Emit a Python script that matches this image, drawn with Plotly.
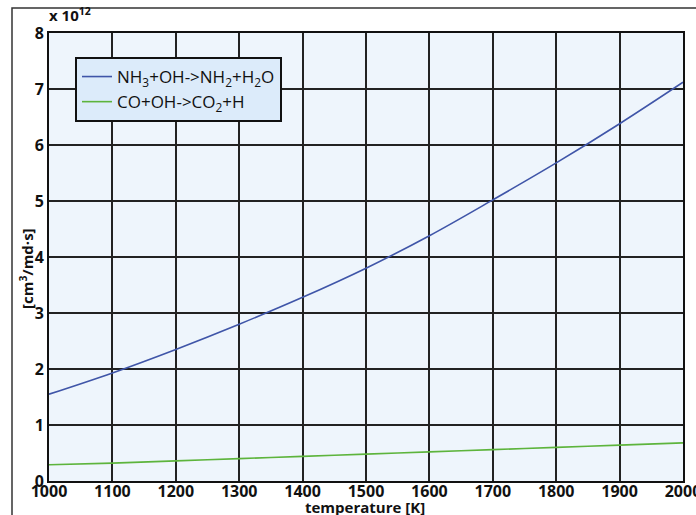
import plotly.graph_objects as go

temperature = [1000, 1100, 1200, 1300, 1400, 1500, 1600, 1700, 1800, 1900, 2000]
nh3_oh = [1.55, 1.93, 2.35, 2.80, 3.28, 3.80, 4.38, 5.02, 5.68, 6.38, 7.12]
co_oh = [0.29, 0.32, 0.36, 0.40, 0.44, 0.48, 0.52, 0.56, 0.60, 0.64, 0.68]
x_ticks = [1000, 1100, 1200, 1300, 1400, 1500, 1600, 1700, 1800, 1900, 2000]
y_ticks = [0, 1, 2, 3, 4, 5, 6, 7, 8]

fig = go.Figure()
fig.add_trace(go.Scatter(x=temperature, y=nh3_oh, mode="lines", line=dict(color="#3f55a8", width=1.6, shape="spline"),
                         name="NH<sub>3</sub>+OH->NH<sub>2</sub>+H<sub>2</sub>O"))
fig.add_trace(go.Scatter(x=temperature, y=co_oh, mode="lines", line=dict(color="#5db43c", width=1.6, shape="spline"),
                         name="CO+OH->CO<sub>2</sub>+H"))

L, R, T, B = 49, 13, 33, 34
W, H = 696, 515
pw, ph = W - L - R, H - T - B

tick_font = dict(size=16, family="Open Sans", weight="bold", color="#111")
title_font = dict(size=15, family="Open Sans", weight="bold", color="#111")

def px_x(x):
    return (x - L) / pw

def px_y(y):
    return (H - B - y) / ph

fig.update_layout(
    width=W, height=H,
    margin=dict(l=L, r=R, t=T, b=B, autoexpand=False),
    paper_bgcolor="white",
    plot_bgcolor="#eef5fc",
    font=dict(family="Open Sans", color="#111"),
    showlegend=True,
    legend=dict(x=px_x(75), y=px_y(57), xanchor="left", yanchor="top",
                bgcolor="#dcebfa", bordercolor="#111", borderwidth=2,
                font=dict(size=17, family="Open Sans", color="#111"),
                tracegroupgap=0, itemwidth=30),
    xaxis=dict(range=[1000, 2000], tickvals=x_ticks, showgrid=True, gridcolor="#222", gridwidth=1.5,
               showline=True, linecolor="#111", linewidth=2, mirror=True, ticks="",
               tickfont=tick_font, ticklabeloverflow="allow", ticklabelstandoff=-5, automargin=False,
               zeroline=False),
    yaxis=dict(range=[0, 8], tickvals=y_ticks, showgrid=True, gridcolor="#222", gridwidth=1.5,
               showline=True, linecolor="#111", linewidth=2, mirror=True, ticks="",
               tickfont=tick_font, ticklabeloverflow="allow", ticklabelstandoff=0, automargin=False,
               zeroline=False),
    shapes=[dict(type="rect", xref="paper", yref="paper",
                 x0=px_x(12), x1=px_x(705),
                 y0=px_y(535), y1=px_y(8),
                 line=dict(color="#333", width=1.5), fillcolor="rgba(0,0,0,0)", layer="below")],
    annotations=[
        dict(text="x 10<sup>12</sup>", xref="paper", yref="paper",
             x=px_x(47), y=px_y(27), xanchor="left", yanchor="bottom",
             showarrow=False, font=dict(size=15, family="Open Sans", weight="bold", color="#111")),
        dict(text="temperature [K]", xref="paper", yref="paper",
             x=px_x(365), y=px_y(507), xanchor="center", yanchor="middle",
             showarrow=False, font=title_font),
        dict(text="[cm<sup>3</sup>/md·s]", xref="paper", yref="paper",
             x=px_x(26), y=px_y(268), xanchor="center", yanchor="middle", textangle=-90,
             showarrow=False, font=title_font),
    ]
)

fig.write_html("out.html")
